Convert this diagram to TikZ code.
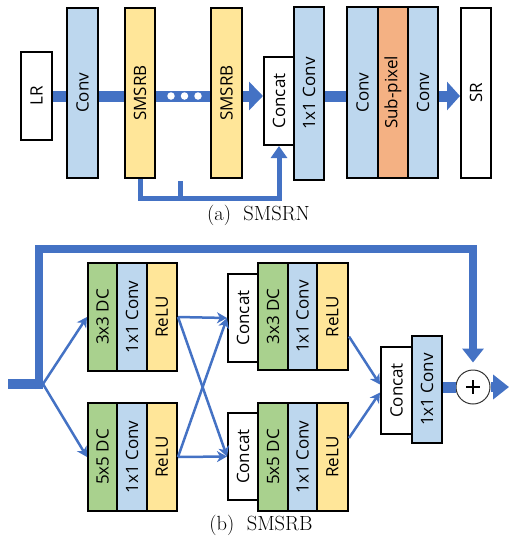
\documentclass[tikz,border=0pt]{standalone}
\usepackage{fontspec}
\usepackage{graphicx}
\setsansfont{Open Sans}
\usetikzlibrary{arrows.meta,backgrounds,calc}
\definecolor{lblue}{HTML}{BDD7EE}
\definecolor{lyellow}{HTML}{FFE699}
\definecolor{lorange}{HTML}{F4B183}
\definecolor{lgreen}{HTML}{A9D18E}
\definecolor{ablue}{HTML}{4472C4}
\begin{document}
\begin{tikzpicture}[x=1pt,y=-1pt,
  blk/.style={draw=black, line width=2pt, inner sep=0pt, font=\sffamily\fontsize{17}{17}\selectfont},
  bar/.style={draw=ablue, line width=11pt},
  midbar/.style={draw=ablue, line width=5pt},
  thinarr/.style={draw=ablue, line width=2.5pt, -{Stealth[length=10pt,width=11pt,inset=3pt]}},
  captxt/.style={font=\fontsize{20.5}{20.5}\selectfont}
]
\useasboundingbox (0,0) rectangle (510,539);

% ---------- (a) SMSRN ----------
\node[blk, fill=white, minimum width=31pt, minimum height=88pt] (lr) at (36.5,96) {\rotatebox{90}{LR}};
\node[blk, fill=lblue, minimum width=31pt, minimum height=170pt] (conv) at (82.5,93) {\rotatebox{90}{Conv}};
\node[blk, fill=lyellow, minimum width=30pt, minimum height=170pt] (sm1) at (140,93) {\rotatebox{90}{SMSRB}};
\node[blk, fill=lyellow, minimum width=31pt, minimum height=170pt] (sm2) at (226.5,93) {\rotatebox{90}{SMSRB}};
\node[blk, fill=white, minimum width=30pt, minimum height=88pt] (cat) at (279,101) {\rotatebox{90}{Concat}};
\node[blk, fill=lblue, minimum width=30pt, minimum height=173pt] (c11) at (309,93.5) {\rotatebox{90}{1x1 Conv}};
\node[blk, fill=lblue, minimum width=31pt, minimum height=171pt] (g1) at (362.5,92.5) {\rotatebox{90}{Conv}};
\node[blk, fill=lorange, minimum width=30pt, minimum height=171pt] (g2) at (393,92.5) {\rotatebox{90}{Sub-pixel}};
\node[blk, fill=lblue, minimum width=30pt, minimum height=171pt] (g3) at (423,92.5) {\rotatebox{90}{Conv}};
\node[blk, fill=white, minimum width=30pt, minimum height=170pt] (sr) at (476,93) {\rotatebox{90}{SR}};

\coordinate (stub) at (180,181);
\begin{scope}[on background layer]
  \draw[bar, -{Triangle[length=14pt,width=28pt]}] (lr.east) -- (lr.east -| cat.west);
  \draw[bar] (c11.east |- lr.east) -- (g1.west |- lr.east);
  \draw[midbar] (sm1.south) -- ++(0,20);
\end{scope}
\draw[bar, -{Triangle[length=13pt,width=28pt]}] (g3.east |- lr.east) -- (sr.west |- lr.east);
\foreach \i/\xx in {1/171,2/184.5,3/198}
  \node[circle, fill=white, inner sep=0pt, minimum size=7.5pt] (dot\i) at (\xx,96) {};
\draw[midbar, -{Triangle[length=12pt,width=16pt]}] (sm1.south) -- ++(0,19) -| (cat.south);
\draw[midbar] (stub) -- (stub |- 0,199);
\node[captxt] (capa) at (258.5,215) {(a)\ \ SMSRN};

% ---------- (b) SMSRB ----------
\node[blk, fill=lgreen, minimum width=29pt, minimum height=108pt] (d1t) at (102.5,317) {\rotatebox{90}{3x3 DC}};
\node[blk, fill=lblue, minimum width=30pt, minimum height=108pt] (c1t) at (132,317) {\rotatebox{90}{1x1 Conv}};
\node[blk, fill=lyellow, minimum width=30pt, minimum height=108pt] (r1t) at (162,317) {\rotatebox{90}{ReLU}};
\node[blk, fill=lgreen, minimum width=29pt, minimum height=108pt] (d1b) at (102.5,457) {\rotatebox{90}{5x5 DC}};
\node[blk, fill=lblue, minimum width=30pt, minimum height=108pt] (c1b) at (132,457) {\rotatebox{90}{1x1 Conv}};
\node[blk, fill=lyellow, minimum width=30pt, minimum height=108pt] (r1b) at (162,457) {\rotatebox{90}{ReLU}};

\node[blk, fill=white, minimum width=30pt, minimum height=88pt] (k2t) at (243,318) {\rotatebox{90}{Concat}};
\node[blk, fill=lgreen, minimum width=30pt, minimum height=107pt] (d2t) at (273,316.5) {\rotatebox{90}{3x3 DC}};
\node[blk, fill=lblue, minimum width=29pt, minimum height=107pt] (c2t) at (302.5,316.5) {\rotatebox{90}{1x1 Conv}};
\node[blk, fill=lyellow, minimum width=31pt, minimum height=107pt] (r2t) at (332.5,316.5) {\rotatebox{90}{ReLU}};
\node[blk, fill=white, minimum width=30pt, minimum height=87pt] (k2b) at (243,456.5) {\rotatebox{90}{Concat}};
\node[blk, fill=lgreen, minimum width=30pt, minimum height=108pt] (d2b) at (273,457) {\rotatebox{90}{5x5 DC}};
\node[blk, fill=lblue, minimum width=29pt, minimum height=108pt] (c2b) at (302.5,457) {\rotatebox{90}{1x1 Conv}};
\node[blk, fill=lyellow, minimum width=31pt, minimum height=108pt] (r2b) at (332.5,457) {\rotatebox{90}{ReLU}};

\node[blk, fill=white, minimum width=31pt, minimum height=87pt] (k3) at (396.5,390.5) {\rotatebox{90}{Concat}};
\node[blk, fill=lblue, minimum width=30pt, minimum height=107pt] (c3) at (427,389.5) {\rotatebox{90}{1x1 Conv}};

\node[circle, draw=black!80, line width=1pt, fill=white, minimum size=34pt, inner sep=0pt] (plus) at (473,387) {};
\draw[line width=1.6pt] ($(plus)+(-7,0)$) -- ($(plus)+(7,0)$) ($(plus)+(0,-7)$) -- ($(plus)+(0,7)$);

\coordinate (in) at (8,384);
\coordinate (split) at (43,384);
\coordinate (corner) at (39,249);
\coordinate (out) at (509,387);

\draw[draw=ablue, line width=10pt] (in) -- (split);
\draw[draw=ablue, line width=8pt, -{Triangle[length=14pt,width=21pt]}] (39,389) -- (corner) -| ($(plus.north)+(0,-7)$);
\draw[thinarr] (split) -- (d1t.west);
\draw[thinarr] (split) -- (d1b.west);
\draw[thinarr] (r1t.east) -- (k2t.west);
\draw[thinarr] (r1t.east) -- (k2b.west);
\draw[thinarr] (r1b.east) -- (k2b.west);
\draw[thinarr] (r1b.east) -- (k2t.west);
\draw[thinarr] ($(r2t.east)+(0,20)$) -- ($(k3.west)+(0,-6)$);
\draw[thinarr] ($(r2b.east)+(0,-19)$) -- ($(k3.west)+(0,2)$);
\draw[draw=ablue, line width=11pt] (c3.east |- plus.west) -- (plus.west);
\draw[draw=ablue, line width=10pt, -{Triangle[length=16pt,width=24pt]}] (plus.east) -- (out);

\node[captxt] (capb) at (261,525) {(b)\ \ SMSRB};
\end{tikzpicture}
\end{document}
